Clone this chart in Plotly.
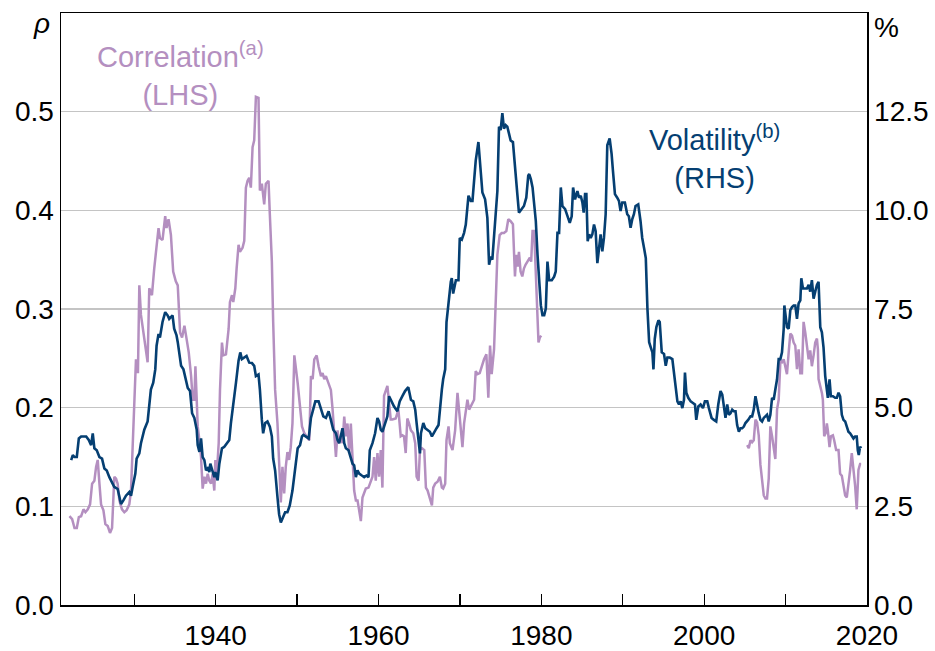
import plotly.graph_objects as go

# ---------------- data ----------------
vol_years = [
    1922.25, 1922.45, 1922.66, 1922.94, 1923.19, 1923.47, 1924.09, 1924.41, 1924.70, 1924.90,
    1925.10, 1925.39, 1925.72, 1926.04, 1926.33, 1926.62, 1926.94, 1927.27, 1927.55, 1927.96,
    1928.17, 1928.37, 1928.66, 1928.98, 1929.39, 1929.60, 1929.80, 1930.13, 1930.29, 1930.62,
    1930.82, 1931.02, 1931.23, 1931.64, 1931.84, 1932.04, 1932.33, 1932.58, 1932.74, 1932.98,
    1933.15, 1933.47, 1933.80, 1934.09, 1934.29, 1934.70, 1934.90, 1935.19, 1935.34, 1935.75,
    1936.04, 1936.28, 1936.57, 1936.85, 1937.10, 1937.38, 1937.67, 1937.79, 1938.00, 1938.20,
    1938.40, 1938.61, 1938.81, 1939.02, 1939.22, 1939.34, 1939.63, 1939.83, 1939.96, 1940.24,
    1940.45, 1940.77, 1941.06, 1941.34, 1941.67, 1941.87, 1942.16, 1942.49, 1942.81, 1943.02,
    1943.22, 1943.51, 1943.79, 1944.12, 1944.45, 1944.73, 1944.94, 1945.26, 1945.43, 1945.67,
    1945.83, 1946.08, 1946.36, 1946.65, 1946.90, 1947.06, 1947.30, 1947.59, 1947.79, 1948.00,
    1948.28, 1948.53, 1948.81, 1949.10, 1949.43, 1949.66, 1949.87, 1950.07, 1950.36, 1950.60,
    1950.77, 1951.09, 1951.42, 1951.70, 1951.99, 1952.24, 1952.64, 1952.93, 1953.22, 1953.54,
    1953.87, 1954.15, 1954.44, 1954.77, 1954.97, 1955.17, 1955.38, 1955.58, 1955.79, 1955.99,
    1956.32, 1956.60, 1956.81, 1957.01, 1957.22, 1957.42, 1957.62, 1957.95, 1958.24, 1958.52,
    1958.77, 1958.93, 1959.26, 1959.58, 1959.87, 1960.07, 1960.28, 1960.48, 1960.81, 1961.09,
    1961.30, 1961.62, 1961.91, 1962.32, 1962.60, 1962.93, 1963.26, 1963.66, 1963.98, 1964.27,
    1964.51, 1964.68, 1964.92, 1965.09, 1965.21, 1965.50, 1965.74, 1966.03, 1966.31, 1966.56,
    1966.84, 1967.13, 1967.37, 1967.54, 1967.78, 1967.94, 1968.19, 1968.35, 1968.60, 1968.88,
    1969.00, 1969.17, 1969.50, 1969.82, 1969.98, 1970.23, 1970.51, 1970.72, 1971.05, 1971.33,
    1971.54, 1971.74, 1971.94, 1972.27, 1972.56, 1972.76, 1973.09, 1973.37, 1973.58, 1973.78,
    1973.98, 1974.31, 1974.60, 1974.80, 1975.00, 1975.21, 1975.41, 1975.62, 1975.82, 1976.02,
    1976.23, 1976.51, 1976.76, 1977.05, 1977.25, 1977.58, 1977.86, 1978.15, 1978.39, 1978.51,
    1978.71, 1978.92, 1979.12, 1979.32, 1979.53, 1979.73, 1979.94, 1980.14, 1980.35, 1980.55,
    1980.75, 1980.96, 1981.28, 1981.57, 1981.77, 1981.98, 1982.18, 1982.39, 1982.59, 1982.92,
    1983.20, 1983.49, 1983.73, 1983.90, 1984.14, 1984.43, 1984.63, 1984.84, 1985.04, 1985.20,
    1985.37, 1985.53, 1985.69, 1985.86, 1986.06, 1986.26, 1986.47, 1986.67, 1986.88, 1987.08,
    1987.28, 1987.49, 1987.69, 1987.90, 1988.10, 1988.39, 1988.63, 1988.79, 1989.04, 1989.32,
    1989.53, 1989.73, 1989.94, 1990.26, 1990.55, 1990.75, 1990.96, 1991.16, 1991.37, 1991.57,
    1991.90, 1992.18, 1992.39, 1992.62, 1992.83, 1993.03, 1993.24, 1993.44, 1993.64, 1993.77,
    1993.93, 1994.13, 1994.38, 1994.54, 1994.79, 1995.07, 1995.28, 1995.48, 1995.77, 1996.09,
    1996.30, 1996.50, 1996.71, 1996.91, 1997.11, 1997.32, 1997.52, 1997.64, 1997.81, 1998.05,
    1998.34, 1998.62, 1998.87, 1999.03, 1999.28, 1999.56, 1999.85, 2000.09, 2000.38, 2000.58,
    2000.91, 2001.20, 2001.48, 2001.73, 2002.01, 2002.22, 2002.42, 2002.62, 2002.83, 2003.03,
    2003.24, 2003.44, 2003.64, 2003.85, 2004.05, 2004.26, 2004.46, 2004.67, 2004.87, 2005.07,
    2005.40, 2005.69, 2005.89, 2006.09, 2006.30, 2006.50, 2006.70, 2006.91, 2007.11, 2007.32,
    2007.52, 2007.72, 2007.93, 2008.13, 2008.34, 2008.54, 2008.74, 2008.95, 2009.15, 2009.36,
    2009.56, 2009.77, 2009.85, 2009.97, 2010.17, 2010.38, 2010.58, 2010.79, 2010.99, 2011.19,
    2011.40, 2011.60, 2011.81, 2011.93, 2012.13, 2012.42, 2012.62, 2012.83, 2013.03, 2013.23,
    2013.44, 2013.64, 2013.85, 2014.05, 2014.26, 2014.46, 2014.66, 2014.87, 2015.07, 2015.19,
    2015.40, 2015.56, 2015.81, 2016.09, 2016.30, 2016.50, 2016.70, 2016.91, 2017.11, 2017.32,
    2017.52, 2017.72, 2017.93, 2018.13, 2018.34, 2018.54, 2018.74, 2018.87, 2018.99, 2019.15,
    2019.28,
]
vol_values = [
    3.67, 3.80, 3.75, 3.75, 4.22, 4.27, 4.27, 4.18, 4.05, 4.35,
    3.97, 3.92, 3.75, 3.71, 3.46, 3.41, 3.24, 3.11, 2.99, 2.94,
    2.77, 2.56, 2.65, 2.77, 2.86, 2.77, 2.99, 3.33, 3.71, 3.84,
    4.10, 4.27, 4.44, 4.65, 5.03, 5.46, 5.63, 5.97, 6.57, 6.87,
    6.78, 7.17, 7.42, 7.34, 7.25, 7.34, 7.00, 6.83, 6.66, 6.06,
    5.97, 5.72, 5.50, 5.42, 4.86, 4.74, 4.44, 4.05, 3.88, 4.22,
    3.75, 3.67, 3.41, 3.46, 3.37, 3.58, 3.41, 3.24, 3.37, 3.16,
    3.58, 3.97, 4.01, 4.10, 4.18, 4.61, 5.03, 5.63, 6.19, 6.40,
    6.23, 6.27, 6.31, 6.14, 6.13, 6.06, 5.80, 5.84, 5.46, 4.69,
    4.35, 4.61, 4.65, 4.52, 4.27, 3.71, 3.41, 2.73, 2.30, 2.09,
    2.22, 2.35, 2.35, 2.52, 2.90, 3.33, 3.75, 3.97, 4.05, 4.27,
    4.31, 4.27, 4.22, 4.74, 4.99, 5.16, 5.16, 4.99, 4.78, 4.74,
    4.91, 4.69, 4.44, 4.35, 4.18, 4.10, 4.27, 4.48, 4.10, 3.97,
    3.92, 3.71, 3.58, 3.54, 3.24, 3.41, 3.33, 3.28, 3.24, 3.28,
    3.24, 3.92, 4.10, 4.35, 4.74, 4.65, 4.44, 4.39, 4.61, 4.78,
    5.29, 5.16, 5.03, 4.91, 5.16, 5.29, 5.42, 5.52, 5.20, 5.16,
    4.95, 4.61, 4.10, 3.84, 4.35, 4.61, 4.48, 4.44, 4.39, 4.27,
    4.39, 4.48, 4.56, 5.03, 5.46, 5.72, 5.97, 7.17, 7.68, 8.19,
    8.28, 7.89, 8.23, 8.23, 9.30, 9.26, 9.43, 9.64, 10.37, 10.24,
    10.24, 10.88, 11.26, 11.73, 10.92, 10.45, 10.28, 9.81, 8.62, 8.83,
    8.75, 9.56, 10.49, 12.12, 12.03, 12.46, 12.07, 12.16, 12.12, 11.95,
    11.77, 11.73, 11.01, 10.41, 9.94, 10.03, 10.11, 10.32, 10.88, 10.92,
    10.79, 10.58, 10.15, 9.73, 8.87, 8.11, 7.59, 7.34, 7.34, 7.51,
    8.70, 8.23, 8.23, 8.32, 8.45, 9.43, 9.43, 10.58, 10.11, 10.03,
    9.85, 9.68, 9.85, 10.58, 10.28, 10.49, 10.32, 10.37, 10.20, 9.94,
    10.41, 10.41, 9.22, 9.39, 9.30, 9.39, 9.64, 9.47, 8.66, 9.13,
    9.39, 8.96, 9.30, 9.90, 11.65, 11.82, 11.43, 11.01, 10.41, 10.32,
    10.24, 9.98, 10.20, 10.20, 9.90, 9.85, 9.56, 9.77, 9.90, 10.11,
    10.15, 9.73, 9.30, 9.04, 8.79, 7.51, 6.66, 6.53, 6.40, 5.97,
    6.74, 7.04, 7.21, 7.17, 6.40, 6.36, 6.06, 6.27, 6.27, 6.23,
    5.89, 5.46, 5.16, 5.08, 5.16, 4.99, 5.20, 5.89, 5.38, 5.25,
    5.16, 5.12, 5.08, 4.69, 5.03, 5.08, 4.99, 5.16, 5.16, 4.99,
    4.74, 4.69, 4.65, 5.08, 5.42, 5.33, 5.03, 4.74, 5.08, 4.82,
    4.86, 4.95, 4.91, 4.91, 4.56, 4.39, 4.48, 4.48, 4.52, 4.61,
    4.69, 4.78, 4.78, 4.95, 5.29, 5.05, 4.86, 4.69, 4.65, 4.74,
    4.78, 4.82, 4.65, 4.82, 5.25, 5.20, 5.46, 5.72, 6.23, 6.23,
    6.40, 7.00, 7.59, 7.34, 7.04, 7.00, 7.47, 7.55, 7.59, 7.59,
    7.25, 7.64, 7.72, 8.28, 8.02, 8.02, 8.02, 8.11, 7.94, 8.23,
    7.76, 7.94, 8.11, 8.19, 7.04, 6.91, 6.53, 5.80, 5.38, 5.25,
    5.72, 5.29, 5.29, 5.25, 5.25, 5.38, 5.29, 4.82, 4.69, 4.65,
    4.52, 4.39, 4.35, 4.27, 4.22, 4.27, 4.27, 3.92, 3.80, 4.01,
    3.97,
]

corr_years_early = [
    1922.04, 1922.37, 1922.66, 1922.94, 1923.19, 1923.47, 1923.76, 1924.00, 1924.29, 1924.57,
    1924.82, 1925.10, 1925.31, 1925.51, 1925.72, 1925.92, 1926.21, 1926.45, 1926.74, 1927.02,
    1927.27, 1927.55, 1927.76, 1927.96, 1928.17, 1928.49, 1928.78, 1929.06, 1929.39, 1929.60,
    1929.80, 1930.00, 1930.21, 1930.45, 1930.62, 1930.82, 1931.10, 1931.35, 1931.64, 1931.84,
    1932.17, 1932.45, 1932.74, 1932.98, 1933.15, 1933.47, 1933.80, 1933.96, 1934.21, 1934.50,
    1934.78, 1935.10, 1935.34, 1935.63, 1935.87, 1936.16, 1936.36, 1936.69, 1936.98, 1937.18,
    1937.38, 1937.51, 1937.67, 1937.79, 1938.00, 1938.20, 1938.40, 1938.61, 1938.81, 1939.02,
    1939.22, 1939.43, 1939.63, 1939.83, 1939.96, 1940.12, 1940.37, 1940.53, 1940.77, 1940.94,
    1941.26, 1941.59, 1941.75, 1942.00, 1942.16, 1942.41, 1942.57, 1942.81, 1942.98, 1943.30,
    1943.51, 1943.71, 1943.92, 1944.12, 1944.32, 1944.53, 1944.73, 1944.94, 1945.26, 1945.43,
    1945.67, 1945.96, 1946.16, 1946.49, 1946.65, 1946.90, 1947.06, 1947.30, 1947.59, 1947.79,
    1948.00, 1948.20, 1948.41, 1948.61, 1948.81, 1949.02, 1949.22, 1949.43, 1949.66, 1950.07,
    1950.36, 1950.60, 1950.89, 1951.17, 1951.50, 1951.70, 1951.91, 1952.11, 1952.40, 1952.64,
    1952.93, 1953.13, 1953.34, 1953.54, 1953.87, 1954.15, 1954.36, 1954.56, 1954.77, 1954.97,
    1955.17, 1955.38, 1955.58, 1955.79, 1955.99, 1956.19, 1956.40, 1956.60, 1956.81, 1957.01,
    1957.22, 1957.42, 1957.62, 1957.83, 1958.03, 1958.44, 1958.77, 1959.05, 1959.26, 1959.46,
    1959.66, 1959.87, 1960.07, 1960.28, 1960.48, 1960.68, 1960.89, 1961.09, 1961.30, 1961.50,
    1961.70, 1962.11, 1962.44, 1962.73, 1962.93, 1963.13, 1963.34, 1963.54, 1963.75, 1963.98,
    1964.27, 1964.51, 1964.68, 1964.92, 1965.09, 1965.33, 1965.62, 1965.82, 1966.03, 1966.31,
    1966.56, 1966.72, 1966.96, 1967.25, 1967.54, 1967.78, 1967.94, 1968.19, 1968.35, 1968.60,
    1968.76, 1969.09, 1969.41, 1969.70, 1969.90, 1970.11, 1970.31, 1970.51, 1970.72, 1970.92,
    1971.13, 1971.45, 1971.74, 1971.94, 1972.15, 1972.43, 1972.68, 1972.96, 1973.25, 1973.49,
    1973.70, 1973.90, 1974.19, 1974.39, 1974.60, 1974.88, 1975.13, 1975.41, 1975.70, 1975.94,
    1976.23, 1976.51, 1976.76, 1976.92, 1977.09, 1977.25, 1977.45, 1977.66, 1977.86, 1978.07,
    1978.39, 1978.59, 1978.75, 1978.92, 1979.12, 1979.32, 1979.53, 1979.65, 1979.81, 1979.98,
]
corr_values_early = [
    0.090, 0.087, 0.078, 0.078, 0.089, 0.090, 0.097, 0.094, 0.097, 0.102,
    0.123, 0.126, 0.140, 0.147, 0.123, 0.102, 0.096, 0.082, 0.080, 0.073,
    0.078, 0.130, 0.128, 0.123, 0.106, 0.097, 0.094, 0.096, 0.102, 0.116,
    0.160, 0.198, 0.249, 0.235, 0.324, 0.294, 0.276, 0.263, 0.246, 0.321,
    0.314, 0.341, 0.362, 0.382, 0.372, 0.370, 0.394, 0.382, 0.391, 0.375,
    0.338, 0.328, 0.324, 0.276, 0.271, 0.283, 0.273, 0.256, 0.232, 0.208,
    0.208, 0.242, 0.208, 0.181, 0.167, 0.150, 0.118, 0.130, 0.123, 0.133,
    0.126, 0.123, 0.133, 0.116, 0.147, 0.130, 0.164, 0.218, 0.266, 0.253,
    0.254, 0.280, 0.307, 0.314, 0.307, 0.321, 0.341, 0.365, 0.358, 0.362,
    0.369, 0.423, 0.430, 0.433, 0.423, 0.464, 0.471, 0.515, 0.514, 0.420,
    0.427, 0.406, 0.427, 0.430, 0.396, 0.348, 0.287, 0.218, 0.184, 0.140,
    0.104, 0.140, 0.113, 0.140, 0.155, 0.147, 0.160, 0.184, 0.253, 0.225,
    0.198, 0.181, 0.174, 0.171, 0.167, 0.232, 0.229, 0.249, 0.253, 0.242,
    0.232, 0.235, 0.229, 0.232, 0.225, 0.218, 0.198, 0.171, 0.150, 0.177,
    0.164, 0.171, 0.164, 0.191, 0.171, 0.184, 0.154, 0.184, 0.150, 0.116,
    0.106, 0.106, 0.096, 0.085, 0.109, 0.118, 0.119, 0.126, 0.130, 0.150,
    0.126, 0.154, 0.130, 0.157, 0.119, 0.212, 0.217, 0.222, 0.205, 0.188,
    0.188, 0.189, 0.198, 0.171, 0.172, 0.171, 0.154, 0.189, 0.184, 0.177,
    0.174, 0.164, 0.130, 0.126, 0.157, 0.159, 0.157, 0.119, 0.116, 0.109,
    0.101, 0.119, 0.123, 0.125, 0.130, 0.119, 0.118, 0.123, 0.167, 0.181,
    0.164, 0.157, 0.177, 0.215, 0.198, 0.184, 0.160, 0.184, 0.198, 0.208,
    0.198, 0.203, 0.208, 0.237, 0.234, 0.235, 0.242, 0.249, 0.254, 0.210,
    0.263, 0.234, 0.259, 0.300, 0.355, 0.375, 0.377, 0.377, 0.379, 0.391,
    0.389, 0.386, 0.333, 0.355, 0.343, 0.358, 0.338, 0.333, 0.341, 0.345,
    0.350, 0.352, 0.348, 0.379, 0.379, 0.334, 0.294, 0.266, 0.271, 0.273,
]

corr_years_late = [
    2005.28, 2005.48, 2005.69, 2005.89, 2006.09, 2006.30, 2006.50, 2006.70, 2006.91, 2007.11,
    2007.32, 2007.52, 2007.72, 2007.93, 2008.13, 2008.34, 2008.54, 2008.74, 2008.95, 2009.15,
    2009.36, 2009.56, 2009.77, 2009.97, 2010.17, 2010.38, 2010.58, 2010.79, 2010.99, 2011.19,
    2011.40, 2011.60, 2011.81, 2012.01, 2012.21, 2012.42, 2012.62, 2012.83, 2013.03, 2013.23,
    2013.44, 2013.64, 2013.85, 2013.97, 2014.05, 2014.26, 2014.46, 2014.58, 2014.74, 2014.91,
    2015.07, 2015.19, 2015.40, 2015.56, 2015.81, 2015.97, 2016.21, 2016.50, 2016.70, 2016.91,
    2017.11, 2017.32, 2017.52, 2017.72, 2017.93, 2018.13, 2018.34, 2018.54, 2018.74, 2018.95,
    2019.15, 2019.28,
]
corr_values_late = [
    0.162, 0.159, 0.167, 0.165, 0.167, 0.188, 0.185, 0.172, 0.142, 0.128,
    0.111, 0.108, 0.108, 0.128, 0.181, 0.171, 0.157, 0.148, 0.198, 0.208,
    0.247, 0.246, 0.249, 0.242, 0.234, 0.256, 0.275, 0.273, 0.266, 0.263,
    0.239, 0.259, 0.235, 0.235, 0.287, 0.276, 0.263, 0.249, 0.258, 0.242,
    0.253, 0.266, 0.270, 0.259, 0.229, 0.222, 0.215, 0.208, 0.171, 0.174,
    0.184, 0.177, 0.160, 0.171, 0.172, 0.167, 0.157, 0.157, 0.133, 0.131,
    0.121, 0.111, 0.109, 0.121, 0.137, 0.154, 0.140, 0.121, 0.097, 0.137,
    0.143, 0.143,
]

x_tick_vals = [1930, 1940, 1950, 1960, 1970, 1980, 1990, 2000, 2010, 2020]
x_tick_text = ["", "1940", "", "1960", "", "1980", "", "2000", "", "2020"]
left_tick_vals = [0.0, 0.1, 0.2, 0.3, 0.4, 0.5]
left_tick_text = ["0.0", "0.1", "0.2", "0.3", "0.4", "0.5"]
right_tick_vals = [0.0, 2.5, 5.0, 7.5, 10.0, 12.5]
right_tick_text = ["0.0", "2.5", "5.0", "7.5", "10.0", "12.5"]

# ---------------- styling ----------------
PURPLE = "#B48FC0"
NAVY = "#053F72"
FONT = "Arial, 'Liberation Sans', sans-serif"
FS = 28
FS_ANN = 29

corr_x = corr_years_early + [None] + corr_years_late
corr_y = corr_values_early + [None] + corr_values_late

fig = go.Figure()
fig.add_trace(go.Scatter(
    x=corr_x, y=corr_y, mode="lines", name="Correlation",
    line=dict(color=PURPLE, width=2.5), connectgaps=False, yaxis="y",
))
fig.add_trace(go.Scatter(
    x=vol_years, y=vol_values, mode="lines", name="Volatility",
    line=dict(color=NAVY, width=2.6), yaxis="y2",
))

L, R, T, B = 61, 68, 13, 46
W, H = 935, 651
pw, ph = W - L - R, H - T - B

def px_x(px):
    return (px - L) / pw

def px_y(py):
    return (H - B - py) / ph

fig.update_layout(
    width=W, height=H,
    margin=dict(l=L, r=R, t=T, b=B, pad=0, autoexpand=False),
    paper_bgcolor="white", plot_bgcolor="white",
    showlegend=False,
    font=dict(family=FONT, size=FS, color="black"),
    xaxis=dict(
        range=[1921.0, 2020.0], automargin=False,
        tickmode="array", tickvals=x_tick_vals, ticktext=x_tick_text,
        ticks="inside", ticklen=11, tickwidth=1.3, tickcolor="black",
        showline=True, linecolor="black", linewidth=1.5, mirror=True,
        showgrid=False, zeroline=False,
        tickfont=dict(family=FONT, size=FS, color="black"),
        ticklabelstandoff=5,
    ),
    yaxis=dict(
        range=[0, 0.6], automargin=False,
        tickmode="array", tickvals=left_tick_vals, ticktext=left_tick_text,
        ticks="", showline=True, linecolor="black", linewidth=1.5,
        showgrid=True, gridcolor="#C4C4C4", gridwidth=1.5, zeroline=False,
        tickfont=dict(family=FONT, size=FS, color="black"),
    ),
    yaxis2=dict(
        range=[0, 15], overlaying="y", side="right", automargin=False,
        tickmode="array", tickvals=right_tick_vals, ticktext=right_tick_text,
        ticks="", showline=True, linecolor="black", linewidth=1.5,
        showgrid=False, zeroline=False,
        tickfont=dict(family=FONT, size=FS, color="black"),
    ),
)

annotations = [
    dict(text="<i>ρ</i>", x=px_x(52), y=px_y(24), xanchor="right", yanchor="middle",
         font=dict(family=FONT, size=FS, color="black")),
    dict(text="%", x=px_x(872), y=px_y(27), xanchor="left", yanchor="middle",
         font=dict(family=FONT, size=FS, color="black")),
    dict(text="Correlation<sup>(a)</sup><br>(LHS)", x=px_x(180), y=px_y(74),
         xanchor="center", yanchor="middle", align="center",
         font=dict(family=FONT, size=FS_ANN, color=PURPLE)),
    dict(text="Volatility<sup>(b)</sup><br>(RHS)", x=px_x(714), y=px_y(157),
         xanchor="center", yanchor="middle", align="center",
         font=dict(family=FONT, size=FS_ANN, color=NAVY)),
]
for a in annotations:
    a.update(xref="paper", yref="paper", showarrow=False)
fig.update_layout(annotations=annotations)

fig.write_html(
    "out.html",
    config={"displayModeBar": False, "staticPlot": True},
    post_script="document.body.style.margin='0';document.body.style.padding='0';"
                "document.documentElement.style.overflow='hidden';",
)
